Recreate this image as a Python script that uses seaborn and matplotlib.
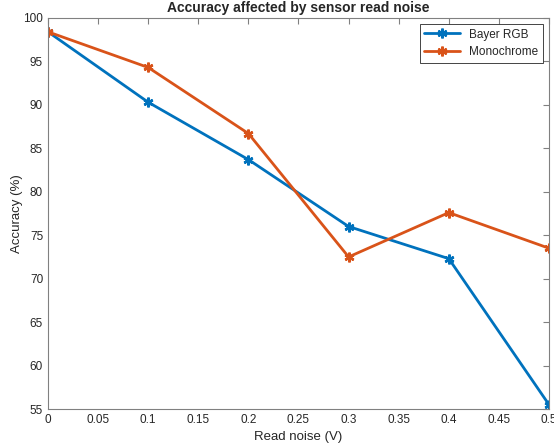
import seaborn as sns
import numpy as np
import pandas as pd
import matplotlib
matplotlib.use('Agg')
import matplotlib.pyplot as plt

# data
read_noise = [0, 0.1, 0.2, 0.3, 0.4, 0.5]
bayer_rgb = [98.4, 90.3, 83.7, 76.0, 72.3, 55.5]
monochrome = [98.4, 94.3, 86.7, 72.5, 77.6, 73.5]
series_names = ['Bayer RGB', 'Monochrome']
x_ticks = [0, 0.05, 0.1, 0.15, 0.2, 0.25, 0.3, 0.35, 0.4, 0.45, 0.5]
y_ticks = [55, 60, 65, 70, 75, 80, 85, 90, 95, 100]

df = pd.DataFrame({
    'noise': read_noise * 2,
    'acc': bayer_rgb + monochrome,
    'sensor': [series_names[0]] * len(read_noise) + [series_names[1]] * len(read_noise),
})

sns.set_style('white')
plt.rcParams['font.family'] = ['Liberation Sans', 'DejaVu Sans']

fig = plt.figure(figsize=(5.54, 4.48), dpi=100)
ax = fig.add_axes([0.0866, 0.087, 0.9044, 0.873])

sns.lineplot(data=df, x='noise', y='acc', hue='sensor', palette=['#0072BD', '#D95319'],
             marker=(6, 2, 0), markersize=7, markeredgewidth=1.8, linewidth=2,
             ax=ax)
# matlab-style asterisks: edge same colour as line
for ln in ax.lines:
    ln.set_markeredgecolor(ln.get_color())

ax.set_xlim(0, 0.5)
ax.set_ylim(55, 100)
ax.set_xticks(x_ticks)
ax.set_xticklabels([f'{v:g}' for v in x_ticks])
ax.set_yticks(y_ticks)
ax.tick_params(direction='in', length=4, width=0.8, colors='#808080',
               labelcolor='#262626', labelsize=8.5, top=True, right=True,
               labeltop=False, labelright=False)
for s in ax.spines.values():
    s.set_color('#808080')
    s.set_linewidth(0.8)

ax.set_xlabel('Read noise (V)', fontsize=9.5, color='#262626')
ax.set_ylabel('Accuracy (%)', fontsize=9.5, color='#262626', labelpad=0)
ax.set_title('Accuracy affected by sensor read noise', fontsize=10, fontweight='bold', pad=4)

leg = ax.legend(loc='upper right', fontsize=8.5, frameon=True, fancybox=False,
                edgecolor='#262626', framealpha=1, borderpad=0.4, handlelength=3)
leg.get_frame().set_linewidth(0.6)
for h in leg.get_lines():
    h.set_markeredgecolor(h.get_color())

fig.savefig('out.png', dpi=100)
